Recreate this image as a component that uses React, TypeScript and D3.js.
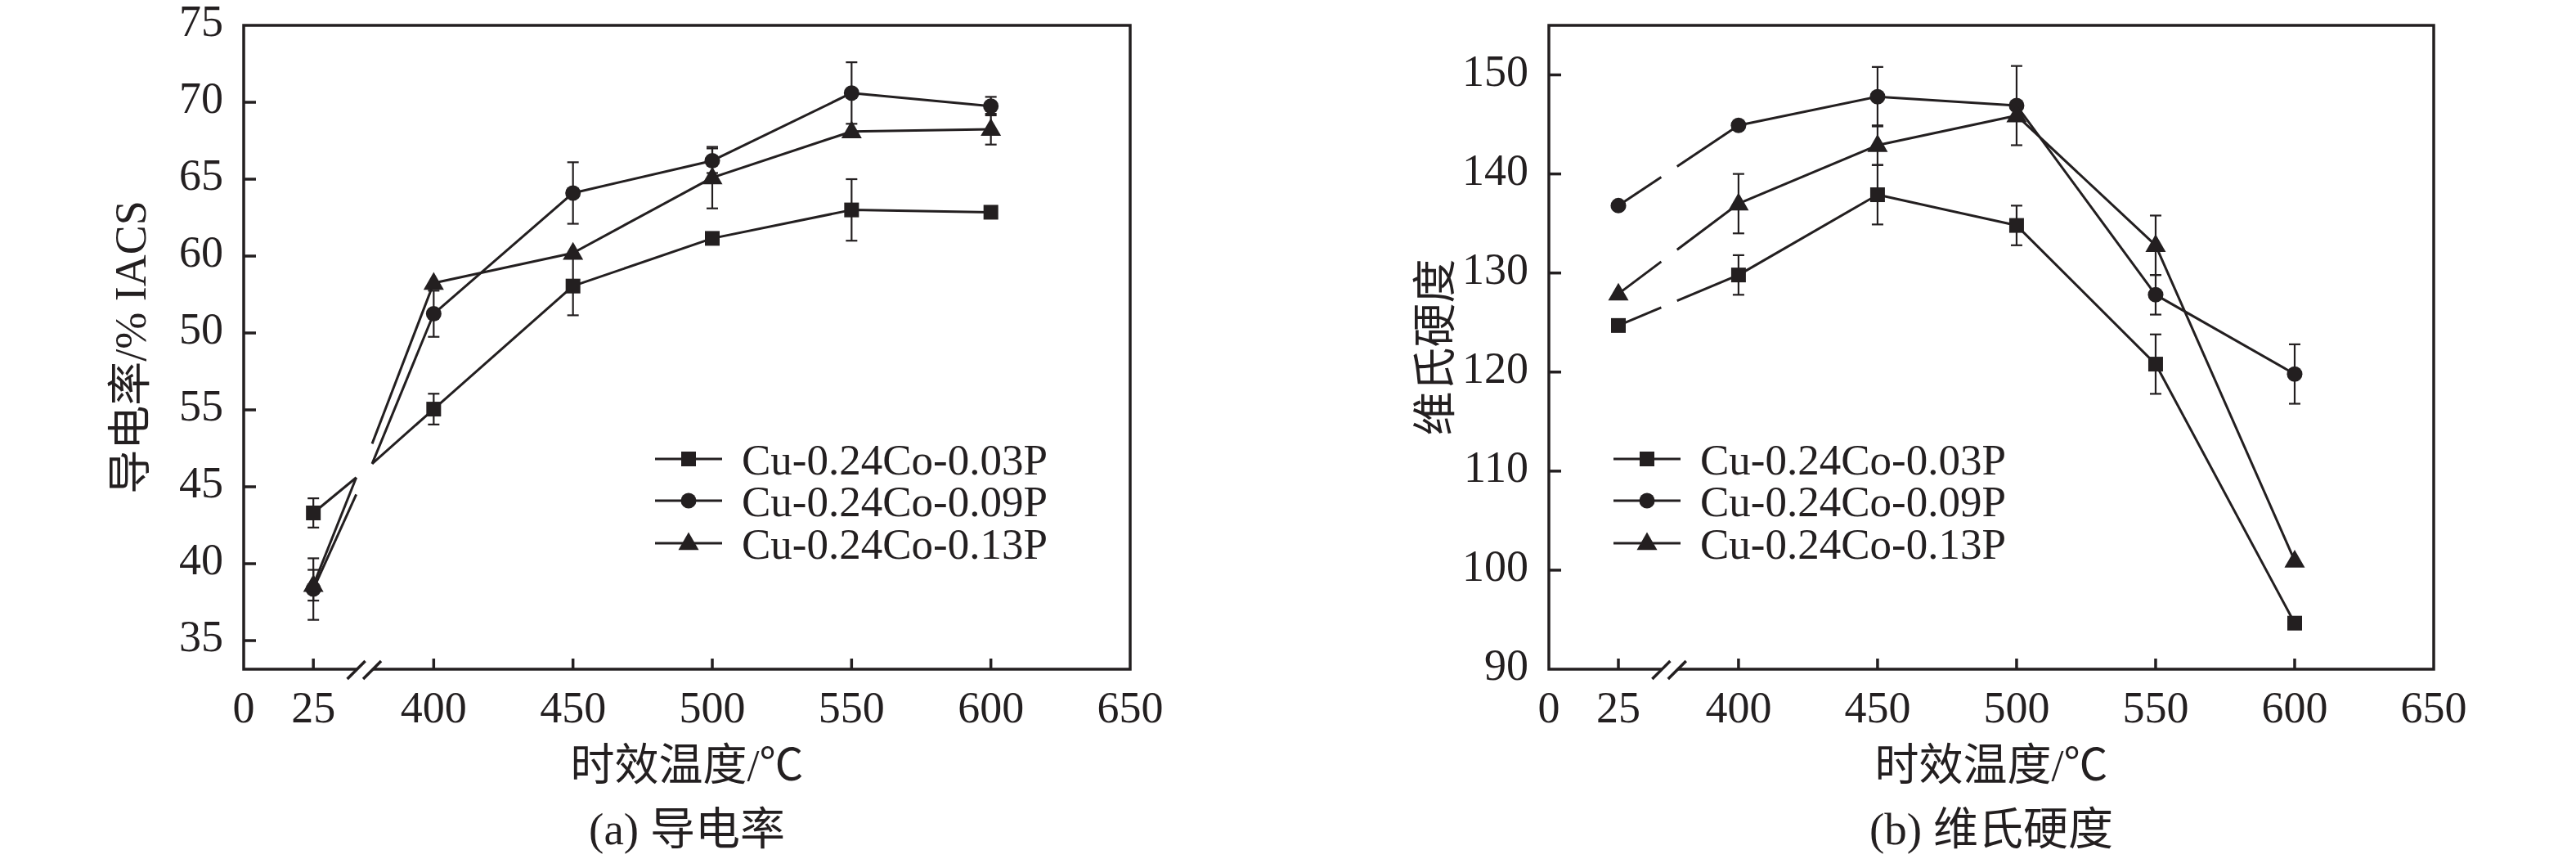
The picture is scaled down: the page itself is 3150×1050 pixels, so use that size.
import React, { useEffect, useRef } from "react";
import * as d3 from "d3";

// aging temperature, °C
const temps = [25, 400, 450, 500, 550, 600];
const seriesNames = ["Cu-0.24Co-0.03P", "Cu-0.24Co-0.09P", "Cu-0.24Co-0.13P"];
const markerKinds = ["square", "circle", "triangle"];

// (a) electrical conductivity, %IACS
const cond003 = [43.3, 50.05, 58.05, 61.15, 63.0, 62.85];
const cond009 = [38.35, 56.25, 64.1, 66.2, 70.6, 69.75];
const cond013 = [38.6, 58.25, 60.2, 65.1, 68.1, 68.25];
const condErr003 = [0.95, 1.0, 1.9, 0, 2.0, 0];
const condErr009 = [2.0, 1.5, 2.0, 0.8, 2.0, 0.6];
const condErr013 = [1.0, 0, 0, 2.0, 0, 1.0];
// where the lines stop / restart around the axis break in (a)
const condBreakIn = [45.6, 44.5, 45.6];
const condBreakOut = [46.5, 46.5, 47.8];
const condTicks = [35, 40, 45, 50, 55, 60, 65, 70, 75];
const condTickLabels = ["35", "40", "45", "55", "50", "60", "65", "70", "75"]; // as printed

// (b) Vickers hardness
const hard003 = [124.7, 129.8, 137.9, 134.8, 120.8, 94.65];
const hard009 = [136.8, 144.9, 147.8, 146.9, 127.8, 119.8];
const hard013 = [127.9, 137.0, 142.9, 145.9, 132.8, 100.95];
const hardErr003 = [0, 2, 3, 2, 3, 0];
const hardErr009 = [0, 0, 3, 4, 2, 3];
const hardErr013 = [0, 3, 2, 0, 3, 0];
const hardTicks = [90, 100, 110, 120, 130, 140, 150];

const xTicks = [0, 25, 400, 450, 500, 550, 600, 650];
// broken x axis: real temperature knots and their position on a continuous axis
const xKnots = [0, 25, 400, 650];
const xVirtual = [0, 25, 68.2, 318.2];
const breakGap = [40.4, 46.1];

const INK = "#231f20";
const FONT = "'Liberation Serif', 'Noto Sans CJK SC', serif";

interface Panel {
  left: number;
  top: number;
  width: number;
  height: number;
  yDomain: [number, number];
  yTicks: number[];
  yLabels: string[];
  series: number[][];
  errors: number[][];
  breakIn?: number[];
  breakOut?: number[];
  yTitle: string;
  caption: string;
  legendX: number;
}

const panels: Panel[] = [
  {
    left: 298, top: 31, width: 1084, height: 787,
    yDomain: [33.14, 75], yTicks: condTicks, yLabels: condTickLabels,
    series: [cond003, cond009, cond013],
    errors: [condErr003, condErr009, condErr013],
    breakIn: condBreakIn, breakOut: condBreakOut,
    yTitle: "导电率/% IACS", caption: "(a) 导电率", legendX: 503
  },
  {
    left: 1894, top: 31, width: 1082, height: 787,
    yDomain: [90, 155], yTicks: hardTicks, yLabels: hardTicks.map(String),
    series: [hard003, hard009, hard013],
    errors: [hardErr003, hardErr009, hardErr013],
    yTitle: "维氏硬度", caption: "(b) 维氏硬度", legendX: 79
  }
];

function marker(g: d3.Selection<SVGGElement, unknown, null, undefined>, kind: string, cx: number, cy: number) {
  const type = kind === "square" ? d3.symbolSquare : kind === "circle" ? d3.symbolCircle : d3.symbolTriangle;
  const size = kind === "square" ? 18 * 18 : kind === "circle" ? Math.PI * 9.5 * 9.5 : (Math.sqrt(3) / 4) * 25 * 25;
  g.append("path")
    .attr("d", d3.symbol().type(type).size(size)())
    .attr("transform", `translate(${cx},${cy + (kind === "triangle" ? 1 : 0)})`)
    .attr("fill", INK);
}

function drawPanel(svg: d3.Selection<SVGSVGElement, unknown, null, undefined>, p: Panel) {
  const g = svg.append("g").attr("transform", `translate(${p.left},${p.top})`);
  const xv = d3.scaleLinear().domain([0, xVirtual[xVirtual.length - 1]]).range([0, p.width]);
  const x = d3.scaleLinear().domain(xKnots).range(xVirtual.map(v => xv(v)));
  const y = d3.scaleLinear().domain(p.yDomain).range([p.height, 0]);
  const h = p.height;

  // frame
  g.append("rect")
    .attr("width", p.width).attr("height", h)
    .attr("fill", "none").attr("stroke", INK).attr("stroke-width", 3.5);

  // y ticks (inward) and labels
  p.yTicks.forEach((t, i) => {
    const yy = y(t);
    if (yy > 2 && yy < h - 2) {
      g.append("line").attr("x1", 0).attr("x2", 15).attr("y1", yy).attr("y2", yy)
        .attr("stroke", INK).attr("stroke-width", 3.5);
    }
    g.append("text").attr("x", -25).attr("y", yy + 13)
      .attr("text-anchor", "end").attr("font-size", 54).attr("font-family", FONT)
      .attr("fill", INK).text(p.yLabels[i]);
  });

  // x ticks (inward) and labels
  xTicks.forEach(t => {
    const xx = x(t);
    if (xx > 2 && xx < p.width - 2) {
      g.append("line").attr("x1", xx).attr("x2", xx).attr("y1", h).attr("y2", h - 13)
        .attr("stroke", INK).attr("stroke-width", 3.5);
    }
    g.append("text").attr("x", xx).attr("y", h + 65)
      .attr("text-anchor", "middle").attr("font-size", 54).attr("font-family", FONT)
      .attr("fill", INK).text(String(t));
  });

  // axis break marks
  const ba = xv(breakGap[0]);
  const bb = xv(breakGap[1]);
  g.append("path")
    .attr("d", `M${ba - 6},${h + 6}L${ba + 6},${h - 6}L${bb + 6},${h - 6}L${bb - 6},${h + 6}Z`)
    .attr("fill", "#fff");
  [ba, bb].forEach(c => {
    g.append("line").attr("x1", c - 11).attr("y1", h + 12).attr("x2", c + 11).attr("y2", h - 10)
      .attr("stroke", INK).attr("stroke-width", 3.5);
  });

  const line = d3.line<[number, number]>();

  p.series.forEach((vals, si) => {
    const x0 = x(temps[0]), y0 = y(vals[0]);
    const x1 = x(temps[1]), y1 = y(vals[1]);
    const gin = xv(breakGap[0]);
    const gout = xv(breakGap[1]);
    const yIn = p.breakIn ? y(p.breakIn[si]) : y0 + ((gin - x0) / (x1 - x0)) * (y1 - y0);
    const yOut = p.breakOut ? y(p.breakOut[si]) : y0 + ((gout - x0) / (x1 - x0)) * (y1 - y0);

    g.append("path")
      .attr("d", line([[x0, y0], [gin, yIn]]))
      .attr("fill", "none").attr("stroke", INK).attr("stroke-width", 3);
    const rest: [number, number][] = [[gout, yOut]];
    temps.slice(1).forEach((t, k) => rest.push([x(t), y(vals[k + 1])]));
    g.append("path")
      .attr("d", line(rest))
      .attr("fill", "none").attr("stroke", INK).attr("stroke-width", 3)
      .attr("stroke-linejoin", "round");

    // error bars
    temps.forEach((t, k) => {
      const e = p.errors[si][k];
      if (!e) return;
      const xx = x(t);
      const top = y(vals[k] + e), bot = y(vals[k] - e);
      g.append("line").attr("x1", xx).attr("x2", xx).attr("y1", top).attr("y2", bot)
        .attr("stroke", INK).attr("stroke-width", 2.2);
      [top, bot].forEach(yy => {
        g.append("line").attr("x1", xx - 7).attr("x2", xx + 7).attr("y1", yy).attr("y2", yy)
          .attr("stroke", INK).attr("stroke-width", 2.2);
      });
    });
  });

  // markers on top
  p.series.forEach((vals, si) => {
    temps.forEach((t, k) => marker(g, markerKinds[si], x(t), y(vals[k])));
  });

  // legend
  const rows = [530, 581, 633];
  seriesNames.forEach((name, i) => {
    const ly = rows[i];
    g.append("line").attr("x1", p.legendX).attr("x2", p.legendX + 82).attr("y1", ly).attr("y2", ly)
      .attr("stroke", INK).attr("stroke-width", 3);
    marker(g, markerKinds[i], p.legendX + 41, ly);
    g.append("text").attr("x", p.legendX + 106).attr("y", ly + 19)
      .attr("font-size", 53).attr("font-family", FONT).attr("fill", INK).text(name);
  });

  // axis titles and caption
  g.append("text")
    .attr("transform", `translate(-120,${h / 2}) rotate(-90)`)
    .attr("text-anchor", "middle").attr("font-size", 54).attr("font-family", FONT)
    .attr("fill", INK).text(p.yTitle);
  g.append("text").attr("x", p.width / 2).attr("y", h + 136)
    .attr("text-anchor", "middle").attr("font-size", 54).attr("font-family", FONT)
    .attr("fill", INK).text("时效温度/℃");
  g.append("text").attr("x", p.width / 2).attr("y", h + 214)
    .attr("text-anchor", "middle").attr("font-size", 55).attr("font-family", FONT)
    .attr("fill", INK).text(p.caption);
}

const App: React.FC = () => {
  const svgRef = useRef<SVGSVGElement | null>(null);

  useEffect(() => {
    if (!svgRef.current) return;
    document.body.style.margin = "0";
    const svg = d3.select(svgRef.current);
    svg.selectAll("*").remove();
    svg.append("rect").attr("width", 3150).attr("height", 1050).attr("fill", "#fff");
    panels.forEach(p => drawPanel(svg, p));
  }, []);

  return <svg ref={svgRef} width={3150} height={1050} style={{ display: "block" }}></svg>;
};

export default App;
